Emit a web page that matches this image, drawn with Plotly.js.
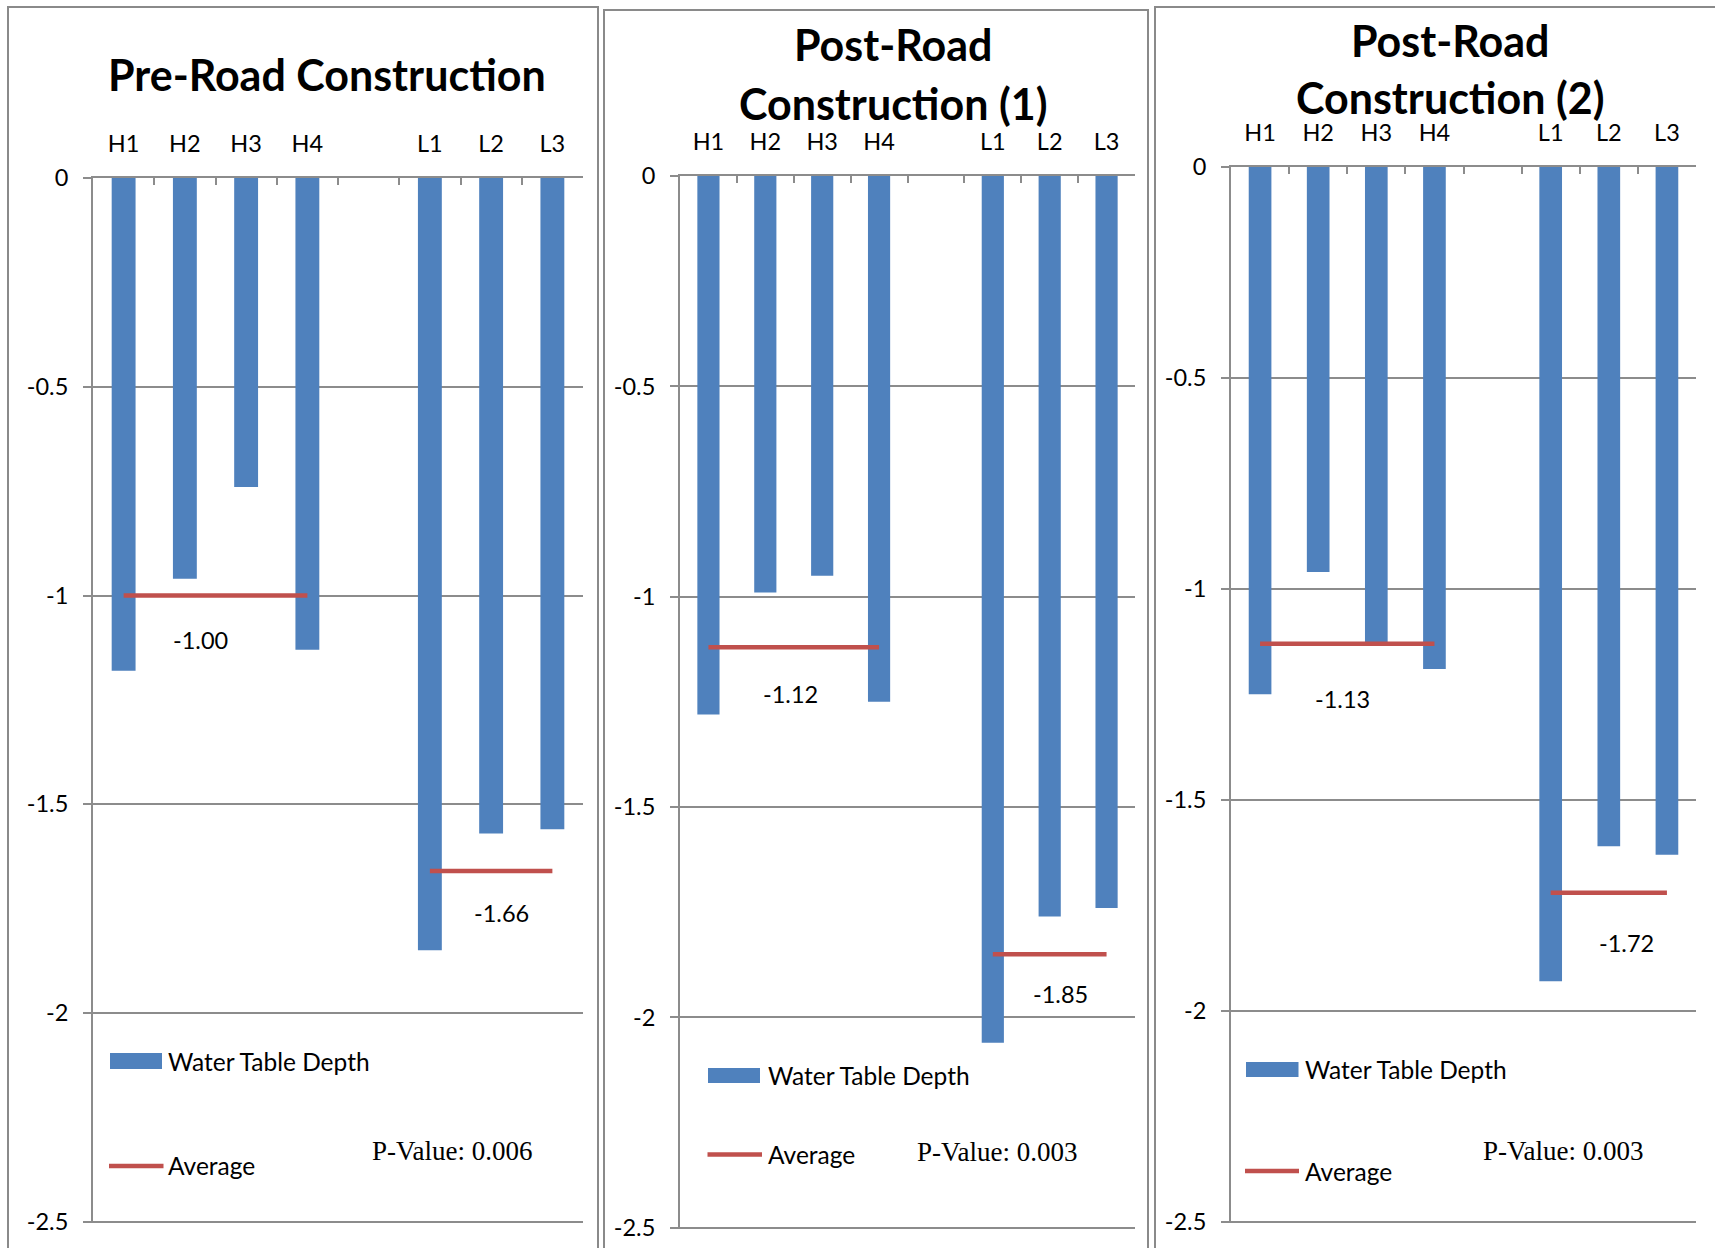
<!DOCTYPE html>
<html>
<head>
<meta charset="utf-8">
<script src="https://cdn.plot.ly/plotly-3.0.1.min.js"></script>
<style>
  html, body { margin: 0; padding: 0; background: #ffffff; }
  #chart { width: 1715px; height: 1248px; }
</style>
</head>
<body>
<div id="chart"></div>
<script>
// ---- Wells ----
const highWells = ['H1', 'H2', 'H3', 'H4'];
const lowWells = ['L1', 'L2', 'L3'];

// ---- Water table depth (m, negative = below surface) ----
const preRoadHigh = [-1.18, -0.96, -0.74, -1.13];
const preRoadLow = [-1.85, -1.57, -1.56];
const postRoad1High = [-1.28, -0.99, -0.95, -1.25];
const postRoad1Low = [-2.06, -1.76, -1.74];
const postRoad2High = [-1.25, -0.96, -1.13, -1.19];
const postRoad2Low = [-1.93, -1.61, -1.63];

// ---- Group averages [high, low] ----
const preRoadAvg = [-1.00, -1.66];
const postRoad1Avg = [-1.12, -1.85];
const postRoad2Avg = [-1.13, -1.72];

// ---- Significance ----
const pValues = ['0.006', '0.003', '0.003'];

// ---- Text ----
const titleLines = [
  ['Pre-Road Construction'],
  ['Post-Road', 'Construction (1)'],
  ['Post-Road', 'Construction (2)']
];
const seriesNames = ['Water Table Depth', 'Average'];
const yTickVals = [0, -0.5, -1, -1.5, -2, -2.5];
const yTickText = ['0', '-0.5', '-1', '-1.5', '-2', '-2.5'];

// ---- Styling ----
const W = 1715, H = 1248;
const toX = p => p / W;
const toY = p => 1 - p / H;
const barColor = '#4F81BD';
const avgColor = '#C0504D';
const gridColor = '#8c8c8c';
const sansFamily = 'Lato, "Open Sans", sans-serif';
const labelFont = { family: sansFamily, size: 23.5, color: '#000000' };
const legendFont = { family: sansFamily, size: 24.5, color: '#000000' };
const titleFont = { family: sansFamily, size: 43, color: '#000000', weight: 700 };
const pFont = { family: '"Liberation Serif", "Times New Roman", serif', size: 27, color: '#000000' };
// tiny extension below -2.5 so the bottom gridline is kept
const yRange = [-2.503, 0];

// Page-pixel geometry of each chart panel
const geometry = [
  {
    frame: [8, 598, 7],
    plot: [93, 583, 178, 1223],
    title: { x: 327, ys: [74] },
    avgLabel: [{ dx: -15, dy: 45 }, { dx: 10, dy: 42 }],
    swatch: [110, 162, 1053, 1069], swatchText: [166, 1061],
    line: [109, 163.5, 1166], lineText: [166, 1165],
    pText: [452, 1150.5]
  },
  {
    frame: [604, 1148, 10],
    plot: [680, 1135, 176, 1229],
    title: { x: 893, ys: [45, 103] },
    avgLabel: [{ dx: -3, dy: 47 }, { dx: 11, dy: 40 }],
    swatch: [708, 760, 1068, 1083], swatchText: [766, 1075.5],
    line: [707.5, 762, 1154.5], lineText: [766, 1154],
    pText: [997, 1152]
  },
  {
    frame: [1155, 1740, 7],
    plot: [1231, 1696, 167, 1223],
    title: { x: 1450, ys: [40, 97.5] },
    avgLabel: [{ dx: -5, dy: 55 }, { dx: 18, dy: 50 }],
    swatch: [1246, 1298.5, 1062, 1077], swatchText: [1303, 1069.5],
    line: [1245, 1299, 1171], lineText: [1303, 1171.5],
    pText: [1562.5, 1150.5]
  }
];

const panels = [
  { high: preRoadHigh, low: preRoadLow, avg: preRoadAvg },
  { high: postRoad1High, low: postRoad1Low, avg: postRoad1Avg },
  { high: postRoad2High, low: postRoad2Low, avg: postRoad2Avg }
];

// Category slots: high wells, an empty spacer slot, then low wells
const slots = highWells.concat([' '], lowWells);
const highMid = (slots.indexOf(highWells[0]) + slots.indexOf(highWells[highWells.length - 1])) / 2;
const lowMid = (slots.indexOf(lowWells[0]) + slots.indexOf(lowWells[lowWells.length - 1])) / 2;

const traces = [];
const layout = {
  width: W, height: H,
  margin: { l: 0, r: 0, t: 0, b: 0 },
  paper_bgcolor: '#ffffff',
  plot_bgcolor: 'rgba(0,0,0,0)',
  showlegend: false,
  bargap: 0.61,
  shapes: [],
  annotations: []
};

panels.forEach((pd, i) => {
  const g = geometry[i];
  const s = i === 0 ? '' : String(i + 1);
  const xa = 'x' + s, ya = 'y' + s;

  // Depth bars
  traces.push({
    type: 'bar', name: seriesNames[0],
    x: highWells.concat(lowWells),
    y: pd.high.concat(pd.low),
    xaxis: xa, yaxis: ya,
    marker: { color: barColor, line: { width: 0 } },
    hoverinfo: 'x+y'
  });

  // Average lines spanning each well group
  [[highWells, pd.avg[0]], [lowWells, pd.avg[1]]].forEach(([grp, v]) => {
    traces.push({
      type: 'scatter', mode: 'lines', name: seriesNames[1],
      x: [grp[0], grp[grp.length - 1]],
      y: [v, v],
      xaxis: xa, yaxis: ya,
      line: { color: avgColor, width: 4.5 },
      hoverinfo: 'y'
    });
  });

  layout['xaxis' + s] = {
    domain: [toX(g.plot[0]), toX(g.plot[1])],
    anchor: ya,
    side: 'top',
    type: 'category',
    categoryorder: 'array',
    categoryarray: slots,
    range: [-0.5, slots.length - 0.5],
    tickson: 'boundaries',
    ticks: 'inside', ticklen: 7, tickwidth: 2, tickcolor: gridColor,
    showline: true, linecolor: gridColor, linewidth: 2,
    showgrid: false, zeroline: false,
    tickfont: labelFont,
    ticklabelstandoff: 15,
    fixedrange: true
  };
  layout['yaxis' + s] = {
    domain: [toY(g.plot[3]), toY(g.plot[2])],
    anchor: xa,
    range: yRange,
    tickmode: 'array', tickvals: yTickVals, ticktext: yTickText,
    ticks: 'outside', ticklen: 8, tickwidth: 2, tickcolor: gridColor,
    showline: true, linecolor: gridColor, linewidth: 2,
    showgrid: true, gridcolor: gridColor, gridwidth: 2,
    zeroline: false,
    tickfont: labelFont,
    ticklabelstandoff: 10,
    fixedrange: true
  };

  // Panel frame
  layout.shapes.push({
    type: 'rect', xref: 'paper', yref: 'paper', layer: 'below',
    x0: toX(g.frame[0]), x1: toX(g.frame[1]),
    y0: toY(g.frame[2]), y1: toY(H + 40),
    line: { color: '#8a8a8a', width: 2 }, fillcolor: 'rgba(0,0,0,0)'
  });

  // Panel title
  titleLines[i].forEach((t, k) => {
    layout.annotations.push({
      xref: 'paper', yref: 'paper',
      x: toX(g.title.x), y: toY(g.title.ys[k]),
      xanchor: 'center', yanchor: 'middle',
      text: t, showarrow: false, font: titleFont
    });
  });

  // Average value labels under each line
  [[highMid, pd.avg[0], g.avgLabel[0]], [lowMid, pd.avg[1], g.avgLabel[1]]].forEach(([xm, v, off]) => {
    layout.annotations.push({
      xref: xa, yref: ya, x: xm, y: v,
      xshift: off.dx, yshift: -off.dy,
      xanchor: 'center', yanchor: 'middle',
      text: v.toFixed(2), showarrow: false, font: labelFont
    });
  });

  // Legend: bar swatch
  layout.shapes.push({
    type: 'rect', xref: 'paper', yref: 'paper',
    x0: toX(g.swatch[0]), x1: toX(g.swatch[1]),
    y0: toY(g.swatch[3]), y1: toY(g.swatch[2]),
    line: { width: 0 }, fillcolor: barColor
  });
  layout.annotations.push({
    xref: 'paper', yref: 'paper',
    x: toX(g.swatchText[0]), y: toY(g.swatchText[1]),
    xanchor: 'left', yanchor: 'middle',
    text: seriesNames[0], showarrow: false, font: legendFont
  });

  // Legend: average line
  layout.shapes.push({
    type: 'line', xref: 'paper', yref: 'paper',
    x0: toX(g.line[0]), x1: toX(g.line[1]),
    y0: toY(g.line[2]), y1: toY(g.line[2]),
    line: { color: avgColor, width: 4.5 }
  });
  layout.annotations.push({
    xref: 'paper', yref: 'paper',
    x: toX(g.lineText[0]), y: toY(g.lineText[1]),
    xanchor: 'left', yanchor: 'middle',
    text: seriesNames[1], showarrow: false, font: legendFont
  });

  // P-value note
  layout.annotations.push({
    xref: 'paper', yref: 'paper',
    x: toX(g.pText[0]), y: toY(g.pText[1]),
    xanchor: 'center', yanchor: 'middle',
    text: 'P-Value: ' + pValues[i], showarrow: false, font: pFont
  });
});

Plotly.newPlot('chart', traces, layout, { displayModeBar: false, responsive: false });
</script>
</body>
</html>
